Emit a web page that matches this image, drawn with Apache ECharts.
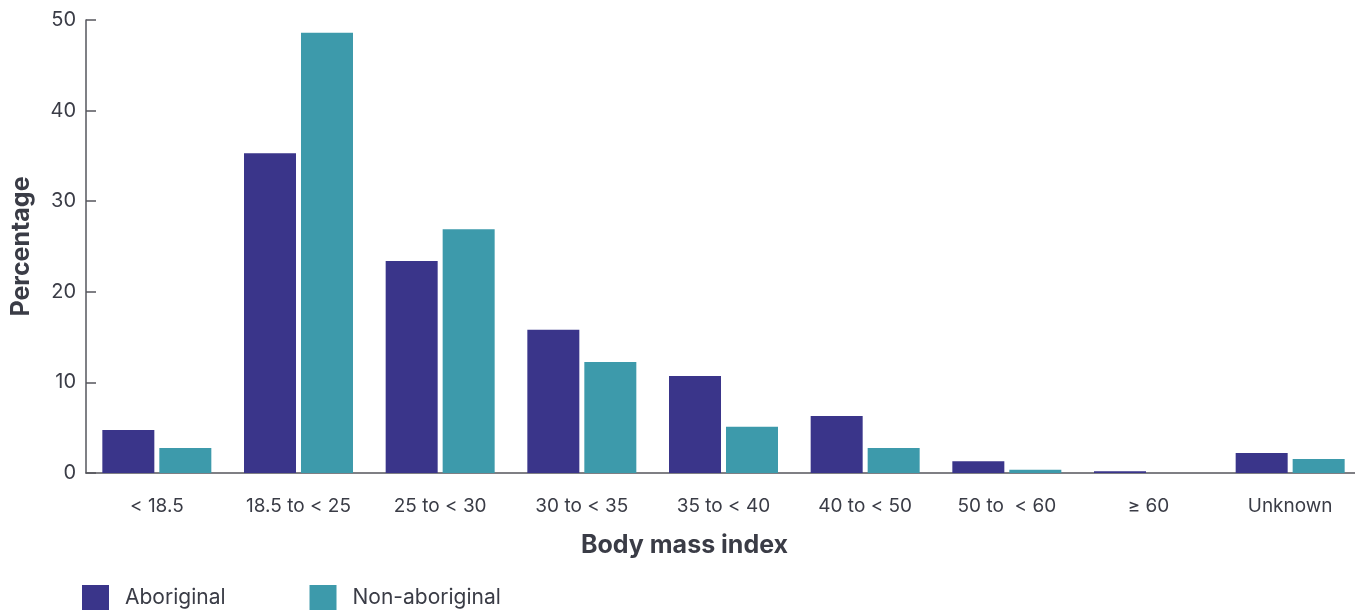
<!DOCTYPE html>
<html><head><meta charset="utf-8">
<script src="https://cdn.jsdelivr.net/npm/echarts@6/dist/echarts.min.js"></script>
<style>html,body{margin:0;padding:0;background:#fff}#c{width:1355px;height:610px}</style>
</head><body><div id="c"></div>
<script>
const categories = ['< 18.5', '18.5 to < 25', '25 to < 30', '30 to < 35', '35 to < 40', '40 to < 50', '50 to  < 60', '≥ 60', 'Unknown'];
const aboriginal = [4.75, 35.3, 23.4, 15.8, 10.7, 6.3, 1.3, 0.2, 2.2];
const nonAboriginal = [2.75, 48.6, 26.9, 12.25, 5.1, 2.75, 0.35, 0, 1.55];
const seriesNames = ['Aboriginal', 'Non-aboriginal'];
const FONT = 'Inter';
const TXT = '#3a3c46';
const AX = '#55565c';
const chart = echarts.init(document.getElementById('c'), null, {renderer: 'canvas'});
chart.setOption({
  animation: false,
  textStyle: {fontFamily: FONT},
  grid: {left: 86, right: -6, top: 20, bottom: 137, containLabel: false, outerBoundsMode: 'none'},
  legend: {
    left: 82, top: 585, padding: 0, itemWidth: 27, itemHeight: 25, itemGap: 84,
    icon: 'rect',
    textStyle: {fontFamily: FONT, fontSize: 21, color: TXT, padding: [7, 0, 0, 11]},
    data: seriesNames
  },
  xAxis: {
    type: 'category', data: categories,
    axisLine: {lineStyle: {color: AX, width: 1.5}},
    axisTick: {inside: true, length: 11, lineStyle: {color: AX, width: 1.5}},
    axisLabel: {fontFamily: FONT, fontSize: 19, color: TXT, margin: 24},
    name: 'Body mass index', nameLocation: 'middle', nameGap: 60,
    nameTextStyle: {fontFamily: FONT, fontSize: 25, fontWeight: 'bold', color: TXT, padding: [0, 78, 0, 0]}
  },
  yAxis: {
    type: 'value', min: 0, max: 50, interval: 10,
    splitLine: {show: false},
    axisLine: {show: true, lineStyle: {color: AX, width: 1.5}},
    axisTick: {show: true, inside: true, length: 10, lineStyle: {color: AX, width: 1.5}},
    axisLabel: {fontFamily: FONT, fontSize: 20, color: TXT, margin: 10},
    name: 'Percentage', nameLocation: 'middle', nameGap: 52,
    nameTextStyle: {fontFamily: FONT, fontSize: 25, fontWeight: 'bold', color: TXT}
  },
  series: [
    {name: seriesNames[0], type: 'bar', data: aboriginal, barWidth: 52, barGap: '9.6%', itemStyle: {color: '#3a358a'}},
    {name: seriesNames[1], type: 'bar', data: nonAboriginal, barWidth: 52, itemStyle: {color: '#3d9aab'}}
  ]
});
</script></body></html>
